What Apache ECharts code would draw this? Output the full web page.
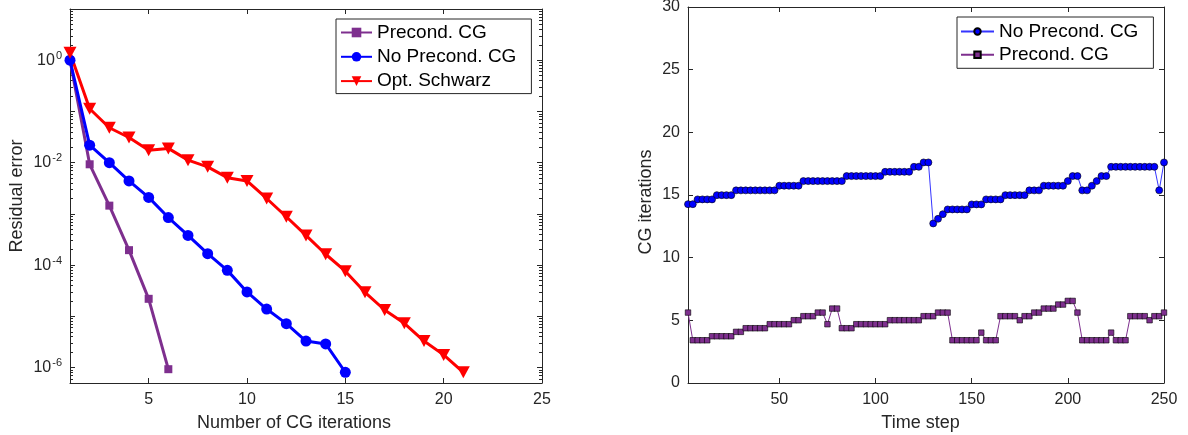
<!DOCTYPE html>
<html>
<head>
<meta charset="utf-8">
<script src="https://cdn.jsdelivr.net/npm/echarts@6/dist/echarts.min.js"></script>
<style>
  html, body { margin: 0; padding: 0; background: #fff; }
  #chart { width: 1188px; height: 435px; }
</style>
</head>
<body>
<div id="chart"></div>
<script>
// ---- Convergence history: residual error per CG iteration ----
const cgIterations = [1, 2, 3, 4, 5, 6, 7, 8, 9, 10, 11, 12, 13, 14, 15, 16, 17, 18, 19, 20, 21];
const precondResidual = [1.0, 9.3e-3, 1.45e-3, 1.96e-4, 2.2e-5, 9.3e-7];
const noPrecondResidual = [1.0, 2.2e-2, 1.0e-2, 4.4e-3, 2.1e-3, 8.5e-4, 3.8e-4, 1.67e-4, 7.9e-5,
  3.0e-5, 1.39e-5, 7.2e-6, 3.3e-6, 2.9e-6, 8.1e-7];
const schwarzResidual = [1.4, 0.113, 0.048, 0.031, 0.0175, 0.019, 0.0112, 8.3e-3, 5.1e-3, 4.4e-3,
  2.0e-3, 8.8e-4, 3.8e-4, 1.63e-4, 7.6e-5, 2.95e-5, 1.33e-5, 7.3e-6, 3.3e-6, 1.77e-6, 8.1e-7];
const residualTickLabels = [1e-6, 1e-4, 1e-2, 1];
const iterationTickLabels = [5, 10, 15, 20, 25];

// ---- CG iterations needed at each time step (sampled every 2.5 steps) ----
const sampleSpacing = 2.5;
const noPrecondIters = [
  14.27, 14.27, 14.65, 14.65, 14.65, 14.65, 14.99, 14.99, 14.99, 14.99,
  15.37, 15.37, 15.37, 15.37, 15.37, 15.37, 15.37, 15.37, 15.37, 15.74,
  15.74, 15.74, 15.74, 15.74, 16.11, 16.11, 16.11, 16.11, 16.11, 16.11,
  16.11, 16.11, 16.11, 16.51, 16.51, 16.51, 16.51, 16.51, 16.51, 16.51,
  16.51, 16.85, 16.85, 16.85, 16.85, 16.85, 16.85, 17.25, 17.25, 17.6,
  17.6, 12.73, 13.1, 13.47, 13.85, 13.85, 13.85, 13.85, 13.85, 14.25,
  14.25, 14.25, 14.65, 14.65, 14.65, 14.65, 14.99, 14.99, 14.99, 14.99,
  14.99, 15.37, 15.37, 15.37, 15.74, 15.74, 15.74, 15.74, 15.74, 16.11,
  16.51, 16.51, 15.37, 15.37, 15.74, 16.11, 16.51, 16.51, 17.25, 17.25,
  17.25, 17.25, 17.25, 17.25, 17.25, 17.25, 17.25, 17.25, 15.37, 17.6
];
const precondIters = [
  5.62, 3.41, 3.41, 3.41, 3.41, 3.73, 3.73, 3.73, 3.73, 3.73,
  4.08, 4.08, 4.37, 4.37, 4.37, 4.37, 4.37, 4.69, 4.69, 4.69,
  4.69, 4.69, 5.01, 5.01, 5.33, 5.33, 5.33, 5.62, 5.62, 4.69,
  5.94, 5.94, 4.37, 4.37, 4.37, 4.69, 4.69, 4.69, 4.69, 4.69,
  4.69, 4.69, 5.01, 5.01, 5.01, 5.01, 5.01, 5.01, 5.01, 5.33,
  5.33, 5.33, 5.62, 5.62, 5.62, 3.41, 3.41, 3.41, 3.41, 3.41,
  3.41, 4.02, 3.41, 3.41, 3.41, 5.33, 5.33, 5.33, 5.33, 5.01,
  5.33, 5.33, 5.62, 5.62, 5.94, 5.94, 5.94, 6.26, 6.26, 6.55,
  6.55, 5.62, 3.41, 3.41, 3.41, 3.41, 3.41, 3.41, 4.02, 3.41,
  3.41, 3.41, 5.33, 5.33, 5.33, 5.33, 5.01, 5.33, 5.33, 5.62
];
const timeStepTickLabels = [50, 100, 150, 200, 250];

const timeSteps = noPrecondIters.map((_, i) => (i + 1) * sampleSpacing);
const pairs = (xs, ys) => ys.map((y, i) => [xs[i], y]);

// Decade and sub-decade tick positions for the log axis
const decadeTicks = [];
const subDecadeTicks = [];
for (let e = -7; e <= 1; e++) {
  decadeTicks.push(Math.pow(10, e));
  for (let m = 2; m <= 9; m++) subDecadeTicks.push(m * Math.pow(10, e));
}

const AX = '#262626';
const FONT = "'Liberation Sans', Arial, Helvetica, sans-serif";
const TICK_FONT = 16;

function frameAxis(extra) {
  return Object.assign({
    axisLine: { show: true, onZero: false, lineStyle: { color: AX, width: 1 } },
    axisTick: { show: true, inside: true, length: 5, lineStyle: { color: AX, width: 1 } },
    axisLabel: { show: false },
    splitLine: { show: false }
  }, extra);
}

const logRange = { type: 'log', logBase: 10, min: 5e-7, max: 10 };

const option = {
  animation: false,
  backgroundColor: '#fff',
  textStyle: { fontFamily: FONT, color: AX },
  grid: [
    { left: 70, top: 9, width: 472, height: 374, outerBoundsMode: 'none' },
    { left: 688, top: 7, width: 476, height: 376, outerBoundsMode: 'none' }
  ],
  legend: [
    {
      data: ['Precond. CG', 'No Precond. CG', 'Opt. Schwarz'],
      orient: 'vertical',
      left: 336, top: 19,
      padding: [4, 15, 3, 4],
      itemGap: 5.3,
      itemWidth: 31, itemHeight: 12,
      borderColor: AX, borderWidth: 1, borderRadius: 0,
      backgroundColor: '#fff',
      textStyle: { fontSize: 19, lineHeight: 19, color: '#000', fontFamily: FONT }
    },
    {
      data: ['No Precond. CG (steps)', 'Precond. CG (steps)'],
      formatter: name => name.replace(' (steps)', ''),
      orient: 'vertical',
      left: 957, top: 17,
      padding: [5, 15, 4, 3],
      itemGap: 4.3,
      itemWidth: 33, itemHeight: 8,
      borderColor: AX, borderWidth: 1, borderRadius: 0,
      backgroundColor: '#fff',
      textStyle: { fontSize: 19, lineHeight: 19, color: '#000', fontFamily: FONT }
    }
  ],
  xAxis: [
    frameAxis({
      gridIndex: 0, type: 'value', position: 'bottom', min: 1, max: 25,
      axisTick: { show: true, inside: true, length: 5, customValues: iterationTickLabels, lineStyle: { color: AX } },
      axisLabel: { show: true, customValues: iterationTickLabels, fontSize: TICK_FONT, color: AX, margin: 9 },
      name: 'Number of CG iterations', nameLocation: 'middle', nameGap: 31,
      nameTextStyle: { fontSize: 18, color: AX, padding: [0, 24, 0, 0] }
    }),
    frameAxis({
      gridIndex: 0, type: 'value', position: 'top', min: 1, max: 25,
      axisTick: { show: true, inside: true, length: 5, customValues: iterationTickLabels, lineStyle: { color: AX } }
    }),
    frameAxis({
      gridIndex: 1, type: 'value', position: 'bottom', min: 2.5, max: 250,
      axisTick: { show: true, inside: true, length: 5, customValues: timeStepTickLabels, lineStyle: { color: AX } },
      axisLabel: { show: true, customValues: timeStepTickLabels, fontSize: TICK_FONT, color: AX, margin: 9 },
      name: 'Time step', nameLocation: 'middle', nameGap: 31,
      nameTextStyle: { fontSize: 18, color: AX, padding: [0, 11, 0, 0] }
    }),
    frameAxis({
      gridIndex: 1, type: 'value', position: 'top', min: 2.5, max: 250,
      axisTick: { show: true, inside: true, length: 5, customValues: timeStepTickLabels, lineStyle: { color: AX } }
    })
  ],
  yAxis: [
    frameAxis(Object.assign({}, logRange, {
      gridIndex: 0, position: 'left',
      axisTick: { show: true, inside: true, length: 5, customValues: decadeTicks, lineStyle: { color: AX } },
      axisLabel: {
        show: true, customValues: residualTickLabels, margin: 8, color: AX,
        formatter: v => '{b|10}{e|' + Math.round(Math.log10(v)) + '}',
        rich: {
          b: { fontSize: TICK_FONT, lineHeight: 20, color: AX, fontFamily: FONT },
          e: { fontSize: 11, lineHeight: 11, verticalAlign: 'top', color: AX, fontFamily: FONT, padding: [0, 0, 0, 1] }
        }
      },
      name: 'Residual error', nameLocation: 'middle', nameGap: 44,
      nameTextStyle: { fontSize: 18, color: AX }
    })),
    frameAxis(Object.assign({}, logRange, {
      gridIndex: 0, position: 'right',
      axisTick: { show: true, inside: true, length: 5, customValues: decadeTicks, lineStyle: { color: AX } }
    })),
    frameAxis(Object.assign({}, logRange, {
      gridIndex: 0, position: 'left',
      axisLine: { show: false },
      axisTick: { show: true, inside: true, length: 3, customValues: subDecadeTicks, lineStyle: { color: AX } }
    })),
    frameAxis(Object.assign({}, logRange, {
      gridIndex: 0, position: 'right',
      axisLine: { show: false },
      axisTick: { show: true, inside: true, length: 3, customValues: subDecadeTicks, lineStyle: { color: AX } }
    })),
    frameAxis({
      gridIndex: 1, type: 'value', position: 'left', min: 0, max: 30, interval: 5,
      axisLabel: { show: true, fontSize: TICK_FONT, color: AX, margin: 8 },
      name: 'CG iterations', nameLocation: 'middle', nameGap: 33,
      nameTextStyle: { fontSize: 18, color: AX, padding: [0, 14, 0, 0] }
    }),
    frameAxis({
      gridIndex: 1, type: 'value', position: 'right', min: 0, max: 30, interval: 5
    })
  ],
  series: [
    {
      name: 'Precond. CG', type: 'line', xAxisIndex: 0, yAxisIndex: 0,
      data: pairs(cgIterations, precondResidual),
      symbol: 'rect', symbolSize: 8, clip: false,
      lineStyle: { color: '#7E2F8E', width: 3 },
      itemStyle: { color: '#7E2F8E' }
    },
    {
      name: 'No Precond. CG', type: 'line', xAxisIndex: 0, yAxisIndex: 0,
      data: pairs(cgIterations, noPrecondResidual),
      symbol: 'circle', symbolSize: 11, clip: false,
      lineStyle: { color: '#0000FF', width: 3 },
      itemStyle: { color: '#0000FF' }
    },
    {
      name: 'Opt. Schwarz', type: 'line', xAxisIndex: 0, yAxisIndex: 0,
      data: pairs(cgIterations, schwarzResidual),
      symbol: 'triangle', symbolRotate: 180, symbolSize: [13, 12], clip: false,
      lineStyle: { color: '#FF0000', width: 3 },
      itemStyle: { color: '#FF0000' }
    },
    {
      name: 'No Precond. CG (steps)', type: 'line', xAxisIndex: 2, yAxisIndex: 4,
      data: pairs(timeSteps, noPrecondIters),
      symbol: 'circle', symbolSize: 7, clip: false,
      lineStyle: { color: '#3535ff', width: 1 },
      itemStyle: { color: '#0000FF', borderColor: '#000', borderWidth: 0.6 }
    },
    {
      name: 'Precond. CG (steps)', type: 'line', xAxisIndex: 2, yAxisIndex: 4,
      data: pairs(timeSteps, precondIters),
      symbol: 'rect', symbolSize: 5.5, clip: false,
      lineStyle: { color: '#7E2F8E', width: 1 },
      itemStyle: { color: '#7E2F8E', borderColor: '#000', borderWidth: 0.6 }
    }
  ]
};

const chart = echarts.init(document.getElementById('chart'), null, { renderer: 'canvas' });
chart.setOption(option);
</script>
</body>
</html>
